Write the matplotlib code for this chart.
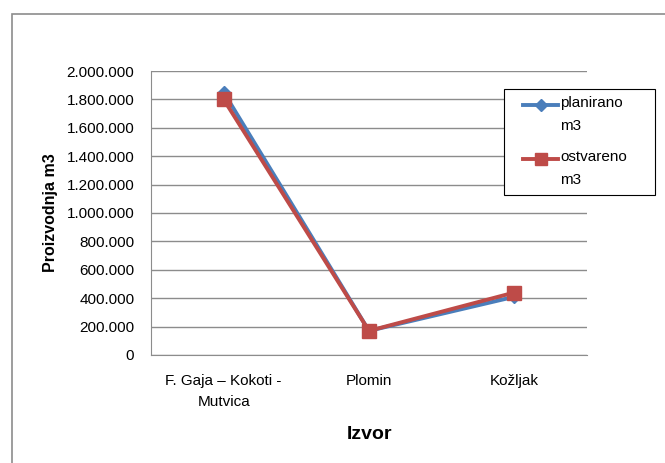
import matplotlib.pyplot as plt
from matplotlib.patches import Rectangle
from matplotlib.lines import Line2D
from matplotlib.ticker import FuncFormatter

plt.rcParams['font.family'] = ['Liberation Sans', 'DejaVu Sans']

categories = ['F. Gaja – Kokoti -\nMutvica', 'Plomin', 'Kožljak']
planirano = [1850000, 170000, 410000]
ostvareno = [1800000, 170000, 440000]
series_names = ['planirano\nm3', 'ostvareno\nm3']
yticks = [0, 200000, 400000, 600000, 800000, 1000000, 1200000, 1400000, 1600000, 1800000, 2000000]

W, H = 665, 463
fig = plt.figure(figsize=(6.65, 4.63), dpi=100)
ax = fig.add_axes([151 / W, 1 - 355 / H, 436 / W, 284 / H])

# outer chart border
fig.patches.append(Rectangle((12 / W, -0.01), 1.0, 1 - 14 / H + 0.01,
                             transform=fig.transFigure, fill=False,
                             edgecolor='#8c8c8c', linewidth=1.2))

x = range(len(categories))
ax.plot(x, planirano, color='#4A7EBB', linewidth=2.8, marker='D', markersize=6.5,
        label=series_names[0], zorder=3)
ax.plot(x, ostvareno, color='#BE4B48', linewidth=2.8, marker='s', markersize=10,
        label=series_names[1], zorder=4)

ax.set_xlim(-0.5, 2.5)
ax.set_ylim(0, 2000000)
ax.set_yticks(yticks)
ax.yaxis.set_major_formatter(FuncFormatter(lambda v, p: f'{int(v):,}'.replace(',', '.')))
ax.set_xticks(list(x))
ax.set_xticklabels(categories, linespacing=1.6)
ax.grid(axis='y', color='#8c8c8c', linewidth=1)
ax.set_axisbelow(True)

for s in ['top', 'right']:
    ax.spines[s].set_visible(False)
for s in ['left', 'bottom']:
    ax.spines[s].set_color('#8c8c8c')
ax.tick_params(axis='both', length=0, labelsize=11, colors='black')
ax.tick_params(axis='x', pad=14)
ax.tick_params(axis='y', pad=12)

ax.set_ylabel('Proizvodnja m3', fontsize=11.5, fontweight='bold', labelpad=6)
ax.set_xlabel('Izvor', fontsize=14, fontweight='bold', labelpad=12)

# legend box drawn like the Excel one: handle next to the first text line
fig.patches.append(Rectangle((504 / W, 1 - 195 / H), 151 / W, 106 / H,
                             transform=fig.transFigure, fill=True, facecolor='white',
                             edgecolor='black', linewidth=0.8, zorder=5))
handles, labels = ax.get_legend_handles_labels()
for i, (h, lab) in enumerate(zip(handles, labels)):
    yl = 1 - (105 + i * 54) / H
    fig.lines.append(Line2D([523 / W, 558 / W], [yl, yl], transform=fig.transFigure,
                            color=h.get_color(), linewidth=h.get_linewidth(),
                            zorder=6))
    fig.lines.append(Line2D([540.5 / W], [yl], transform=fig.transFigure,
                            color=h.get_color(), marker=h.get_marker(),
                            markersize=h.get_markersize() * 0.9, zorder=7))
    fig.text(560 / W, yl + 9 / H, lab, fontsize=11, va='top', ha='left',
             linespacing=1.8, zorder=7)

fig.savefig('out.png', dpi=100)
